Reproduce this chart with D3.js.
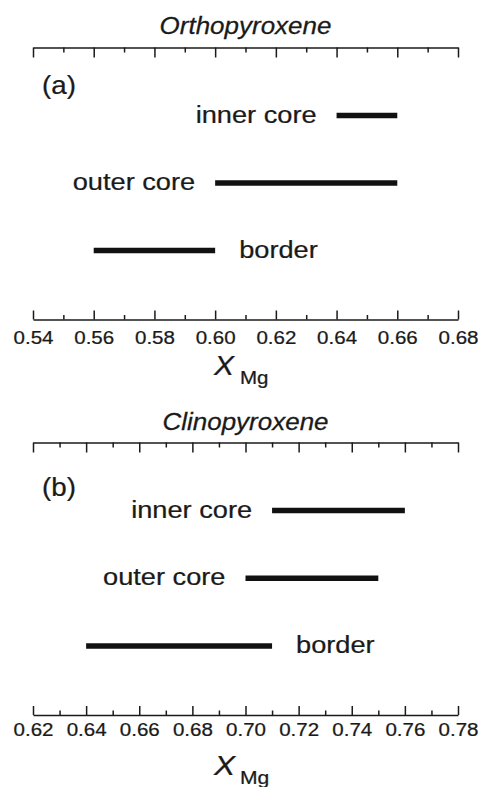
<!DOCTYPE html>
<html>
<head>
<meta charset="utf-8">
<script src="https://cdn.jsdelivr.net/npm/d3@7"></script>
<style>
  html, body { margin: 0; padding: 0; background: #fff; }
  svg { display: block; font-family: "Liberation Sans", Arial, sans-serif; }
</style>
</head>
<body>
<svg id="chart" width="480" height="787"></svg>
<script>
// Compositional zones and their X_Mg ranges
const categories = ["inner core", "outer core", "border"];

// (a) Orthopyroxene
const opxMin = [0.64, 0.60, 0.56];
const opxMax = [0.66, 0.66, 0.60];
const opxTicks = [0.54, 0.56, 0.58, 0.60, 0.62, 0.64, 0.66, 0.68];
const opxMinorTicks = [0.55, 0.57, 0.59, 0.61, 0.63, 0.65, 0.67];

// (b) Clinopyroxene
const cpxMin = [0.71, 0.70, 0.64];
const cpxMax = [0.76, 0.75, 0.71];
const cpxTicks = [0.62, 0.64, 0.66, 0.68, 0.70, 0.72, 0.74, 0.76, 0.78];
const cpxMinorTicks = [0.63, 0.65, 0.67, 0.69, 0.71, 0.73, 0.75, 0.77];

// which side of its bar each zone name sits on
const labelSide = ["left", "left", "right"];

const svg = d3.select("#chart");
const INK = "#1a1a1a";
const SX = 1.11; // horizontal stretch used for the lettering

function stretchedText(g, x, y, str, size, opts = {}) {
  return g.append("text")
    .attr("transform", `translate(${x},${y}) scale(${opts.sx || SX},1)`)
    .attr("font-size", size)
    .attr("font-style", opts.italic ? "italic" : "normal")
    .attr("text-anchor", opts.anchor || "start")
    .attr("fill", INK)
    .attr("stroke", INK)
    .attr("stroke-width", 0.25)
    .text(str);
}

const panels = [
  { tag: "(a)", title: "Orthopyroxene", lo: opxMin, hi: opxMax,
    ticks: opxTicks, minor: opxMinorTicks,
    top: 47.5, bottom: 319.5, titleY: 33.5, tagY: 94,
    labelDy: 20.5, xLabelY: 375, xSize: 27, mgSize: 18.5 },
  { tag: "(b)", title: "Clinopyroxene", lo: cpxMin, hi: cpxMax,
    ticks: cpxTicks, minor: cpxMinorTicks,
    top: 442.5, bottom: 715, titleY: 430, tagY: 495.5,
    labelDy: 17, xLabelY: 775, xSize: 28.5, mgSize: 19 }
];

panels.forEach(p => {
  const g = svg.append("g");
  const domain = [p.ticks[0], p.ticks[p.ticks.length - 1]];
  const x = d3.scaleLinear().domain(domain).range([33, 458]);
  const y = d3.scalePoint().domain(categories).range([p.top + 68, p.bottom - 69]);
  const fmt = d3.format(".2f");

  // top axis: major + minor ticks, no labels
  const topAxis = g.append("g").attr("transform", `translate(0,${p.top})`)
    .call(d3.axisTop(x).tickValues(p.ticks).tickSizeInner(-10).tickSizeOuter(0).tickFormat(""));
  const topMinor = g.append("g").attr("transform", `translate(0,${p.top})`)
    .call(d3.axisTop(x).tickValues(p.minor).tickSizeInner(-5).tickSizeOuter(0).tickFormat(""));
  topMinor.select(".domain").remove();

  // bottom axis with labels
  const botAxis = g.append("g").attr("transform", `translate(0,${p.bottom})`)
    .call(d3.axisBottom(x).tickValues(p.ticks).tickSizeInner(-9).tickSizeOuter(0)
      .tickPadding(p.labelDy).tickFormat(fmt));
  const botMinor = g.append("g").attr("transform", `translate(0,${p.bottom})`)
    .call(d3.axisBottom(x).tickValues(p.minor).tickSizeInner(-4.5).tickSizeOuter(0).tickFormat(""));
  botMinor.select(".domain").remove();

  [topAxis, topMinor, botAxis, botMinor].forEach(a => {
    a.selectAll(".domain").attr("stroke", INK).attr("stroke-width", 1.5);
    a.selectAll(".tick line").attr("stroke", INK).attr("stroke-width", 1.5);
  });
  botAxis.selectAll(".tick text")
    .attr("font-size", 18.5)
    .attr("font-family", "'Liberation Sans', Arial, sans-serif")
    .attr("fill", INK)
    .attr("stroke", INK)
    .attr("stroke-width", 0.25)
    .attr("dy", "0.71em")
    .attr("y", p.labelDy - 9)
    .attr("transform", `scale(${SX},1)`);

  // panel title and tag
  stretchedText(g, 245.5, p.titleY, p.title, 23, { italic: true, anchor: "middle", sx: 1.13 });
  stretchedText(g, 42, p.tagY, p.tag, 25);

  // range bars
  categories.forEach((c, i) => {
    g.append("line")
      .attr("x1", x(p.lo[i])).attr("x2", x(p.hi[i]))
      .attr("y1", y(c)).attr("y2", y(c))
      .attr("stroke", "#111").attr("stroke-width", 5.5);
    const side = labelSide[i];
    const lx = side === "left" ? x(p.lo[i]) - 20 : x(p.hi[i]) + 24;
    stretchedText(g, lx, y(c) + 7, c, 24.5, { anchor: side === "left" ? "end" : "start" });
  });

  // x-axis title X_Mg
  stretchedText(g, 214, p.xLabelY, "X", p.xSize, { italic: true });
  stretchedText(g, 240, p.xLabelY + 8.5, "Mg", p.mgSize);
});
</script>
</body>
</html>
